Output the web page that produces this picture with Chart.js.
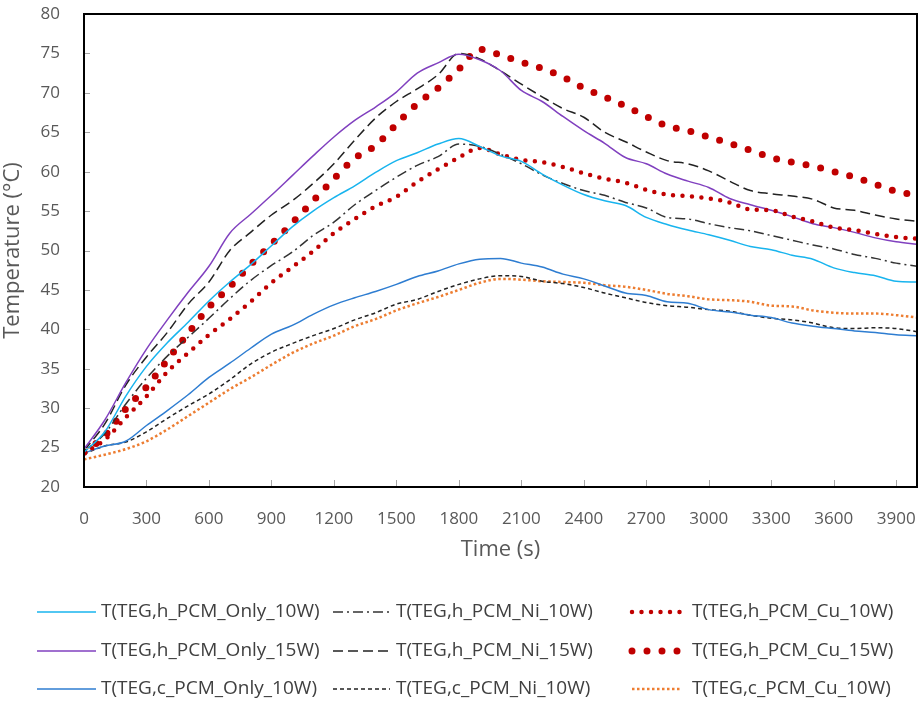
<!DOCTYPE html>
<html>
<head>
<meta charset="utf-8">
<script src="https://cdn.jsdelivr.net/npm/chart.js@4.4.1/dist/chart.umd.min.js"></script>
<style>
  body { margin: 0; background: #fff; }
</style>
</head>
<body>
<canvas id="myChart" width="921" height="703"></canvas>
<script>
// time axis (s)
const times = [0, 100, 200, 300, 400, 500, 600, 700, 800, 900, 1000, 1100, 1200, 1300, 1400, 1500, 1600, 1700, 1800, 1900, 2000,
    2100, 2200, 2300, 2400, 2500, 2600, 2700, 2800, 2900, 3000, 3100, 3200, 3300, 3400, 3500, 3600, 3700, 3800, 3900, 4000];
const xTicks = [0, 300, 600, 900, 1200, 1500, 1800, 2100, 2400, 2700, 3000, 3300, 3600, 3900];

// temperatures (°C)
const hOnly10 = [24.4, 27.0, 31.5, 35.3, 38.3, 40.9, 43.6, 46.0, 48.2, 50.6, 53.0, 55.0, 56.7, 58.2, 59.9, 61.4, 62.4, 63.5, 64.2, 63.2, 62.0,
    61.3, 59.7, 58.3, 57.1, 56.3, 55.7, 54.2, 53.3, 52.6, 52.0, 51.3, 50.5, 50.1, 49.4, 48.9, 47.8, 47.2, 46.8, 46.1, 46.0];
const hNi10 = [24.5, 26.8, 30.5, 33.8, 36.6, 39.0, 41.4, 43.9, 46.2, 48.1, 49.8, 51.9, 53.6, 55.8, 57.6, 59.3, 60.8, 61.9, 63.5, 63.2, 62.2,
    61.0, 59.6, 58.5, 57.6, 57.0, 56.1, 55.4, 54.2, 54.0, 53.4, 52.9, 52.5, 51.9, 51.3, 50.7, 50.2, 49.5, 49.0, 48.4, 48.0];
const hCu10 = [24.3, 26.0, 28.8, 31.5, 34.6, 37.0, 39.3, 41.3, 43.5, 45.9, 47.9, 49.9, 52.2, 54.0, 55.6, 56.8, 58.7, 60.3, 61.8, 63.0, 62.2,
    61.5, 61.2, 60.6, 59.8, 59.1, 58.6, 57.7, 57.1, 56.9, 56.6, 56.1, 55.2, 55.1, 54.3, 53.7, 52.9, 52.6, 52.1, 51.7, 51.5];
const hOnly15 = [24.8, 28.5, 33.2, 37.5, 41.2, 44.7, 48.0, 52.2, 54.6, 57.0, 59.5, 62.0, 64.4, 66.5, 68.2, 70.1, 72.5, 73.8, 74.9, 74.2, 72.8,
    70.3, 68.9, 67.0, 65.2, 63.6, 61.8, 61.0, 59.7, 58.8, 58.0, 56.6, 55.8, 55.1, 54.3, 53.4, 52.9, 52.3, 51.6, 51.1, 50.8];
const hNi15 = [24.6, 28.0, 32.9, 36.5, 39.6, 43.2, 46.0, 50.0, 52.3, 54.5, 56.3, 58.5, 61.0, 64.0, 66.8, 68.9, 70.5, 72.3, 75.0, 74.3, 72.8,
    71.1, 69.5, 68.0, 66.9, 65.0, 63.8, 62.5, 61.4, 61.0, 60.1, 58.8, 57.6, 57.2, 56.9, 56.5, 55.4, 55.1, 54.5, 54.0, 53.7];
const hCu15 = [24.4, 26.5, 29.9, 32.7, 36.1, 39.5, 42.8, 45.4, 48.2, 50.8, 53.5, 56.3, 59.1, 61.7, 63.3, 66.0, 68.6, 70.6, 73.0, 75.5, 74.8,
    73.9, 73.1, 72.0, 70.6, 69.5, 68.3, 67.0, 65.8, 65.2, 64.4, 63.6, 62.7, 61.8, 61.2, 60.7, 60.0, 59.3, 58.4, 57.5, 57.0];
const cOnly10 = [24.3, 25.2, 25.8, 27.8, 29.7, 31.7, 33.9, 35.7, 37.6, 39.4, 40.5, 41.9, 43.1, 44.0, 44.8, 45.7, 46.7, 47.4, 48.3, 48.9, 49.0,
    48.4, 47.9, 47.0, 46.4, 45.5, 44.6, 44.3, 43.5, 43.3, 42.5, 42.2, 41.8, 41.5, 40.8, 40.4, 40.1, 39.8, 39.6, 39.3, 39.2];
const cNi10 = [24.2, 25.2, 25.7, 27.0, 28.7, 30.3, 31.8, 33.6, 35.6, 37.1, 38.2, 39.2, 40.1, 41.2, 42.1, 43.2, 43.8, 44.8, 45.7, 46.4, 46.8,
    46.7, 46.1, 45.8, 45.3, 44.6, 44.0, 43.4, 43.0, 42.8, 42.5, 42.3, 41.8, 41.4, 41.2, 40.8, 40.2, 40.1, 40.2, 40.1, 39.7];
const cCu10 = [23.5, 24.1, 24.8, 25.8, 27.3, 29.0, 30.7, 32.4, 33.9, 35.5, 37.0, 38.2, 39.2, 40.4, 41.3, 42.4, 43.3, 44.1, 45.0, 45.9, 46.4,
    46.3, 46.1, 46.0, 45.9, 45.6, 45.4, 45.0, 44.5, 44.2, 43.8, 43.7, 43.5, 43.0, 42.9, 42.4, 42.1, 42.0, 42.0, 41.8, 41.5];

const seriesNames = ['T(TEG,h_PCM_Only_10W)', 'T(TEG,h_PCM_Ni_10W)', 'T(TEG,h_PCM_Cu_10W)',
    'T(TEG,h_PCM_Only_15W)', 'T(TEG,h_PCM_Ni_15W)', 'T(TEG,h_PCM_Cu_15W)',
    'T(TEG,c_PCM_Only_10W)', 'T(TEG,c_PCM_Ni_10W)', 'T(TEG,c_PCM_Cu_10W)'];
const seriesValues = [hOnly10, hNi10, hCu10, hOnly15, hNi15, hCu15, cOnly10, cNi10, cCu10];

const styles = [
    { borderColor: '#18b4ee', borderWidth: 1.5, borderDash: [], borderCapStyle: 'butt' },
    { borderColor: '#333333', borderWidth: 1.5, borderDash: [10, 4, 2, 4], borderCapStyle: 'butt' },
    { borderColor: '#c00000', borderWidth: 4.5, borderDash: [0, 9.5], borderCapStyle: 'round' },
    { borderColor: '#8040bf', borderWidth: 1.5, borderDash: [], borderCapStyle: 'butt' },
    { borderColor: '#222222', borderWidth: 1.5, borderDash: [10, 5], borderCapStyle: 'butt' },
    { borderColor: '#c00000', borderWidth: 7, borderDash: [0, 15], borderCapStyle: 'round' },
    { borderColor: '#2e7dd1', borderWidth: 1.5, borderDash: [], borderCapStyle: 'butt' },
    { borderColor: '#222222', borderWidth: 1.5, borderDash: [4, 3], borderCapStyle: 'butt' },
    { borderColor: '#ed7d31', borderWidth: 2.5, borderDash: [2.5, 2.5], borderCapStyle: 'butt' }
];

const datasets = seriesNames.map((name, i) => Object.assign({
    label: name,
    data: times.map((t, j) => ({ x: t, y: seriesValues[i][j] })),
    pointRadius: 0,
    tension: 0.3,
    cubicInterpolationMode: 'monotone',
    fill: false
}, styles[i]));

// frame, inner tick marks and a 3 x 3 legend like the original
const framePlugin = {
    id: 'frame',
    afterDraw(chart) {
        const { ctx, chartArea: a, scales: { x, y } } = chart;
        ctx.save();
        ctx.strokeStyle = '#a6a6a6';
        ctx.lineWidth = 1;
        ctx.beginPath();
        x.ticks.forEach(t => {
            const px = Math.round(x.getPixelForValue(t.value)) + 0.5;
            ctx.moveTo(px, a.bottom);
            ctx.lineTo(px, a.bottom - 7);
        });
        y.ticks.forEach(t => {
            const py = Math.round(y.getPixelForValue(t.value)) + 0.5;
            ctx.moveTo(a.left, py);
            ctx.lineTo(a.left + 6, py);
        });
        ctx.stroke();
        ctx.strokeStyle = '#000';
        ctx.lineWidth = 2;
        ctx.strokeRect(a.left, a.top, a.right - a.left, a.bottom - a.top);

        const colX = [[37, 96, 101], [333, 390, 396], [632, 682, 692]];
        const rowY = [612, 651, 689];
        ctx.font = '19px "Open Sans"';
        ctx.textBaseline = 'middle';
        ctx.fillStyle = '#404040';
        chart.data.datasets.forEach((ds, i) => {
            const c = colX[i % 3], yy = rowY[Math.floor(i / 3)];
            ctx.save();
            ctx.strokeStyle = ds.borderColor;
            ctx.lineWidth = ds.borderWidth;
            ctx.lineCap = ds.borderCapStyle;
            ctx.setLineDash(ds.borderDash);
            ctx.beginPath();
            ctx.moveTo(c[0], yy);
            ctx.lineTo(c[1], yy);
            ctx.stroke();
            ctx.restore();
            ctx.fillText(ds.label, c[2], yy);
        });
        ctx.restore();
    }
};

const ctx = document.getElementById('myChart').getContext('2d');
new Chart(ctx, {
    type: 'line',
    data: { datasets: datasets },
    options: {
        responsive: false,
        animation: false,
        layout: { padding: { top: 14, right: 4, bottom: 130, left: 0 } },
        plugins: { legend: { display: false }, tooltip: { enabled: false } },
        scales: {
            x: {
                type: 'linear',
                min: 0,
                max: 4000,
                grid: { display: false },
                border: { display: false },
                afterFit: s => { s.height = 86; s.paddingLeft = 0; s.paddingRight = 0; },
                afterBuildTicks: s => { s.ticks = xTicks.map(v => ({ value: v })); },
                ticks: {
                    autoSkip: false,
                    maxRotation: 0,
                    padding: 14,
                    color: '#595959',
                    font: { family: 'Open Sans', size: 17 },
                    callback: v => String(v)
                },
                title: {
                    display: true,
                    text: 'Time (s)',
                    color: '#595959',
                    font: { family: 'Open Sans', size: 22 },
                    padding: { top: 0, bottom: 10 }
                }
            },
            y: {
                min: 20,
                max: 80,
                grid: { display: false },
                border: { display: false },
                afterFit: s => { s.width = 84; s.paddingTop = 0; s.paddingBottom = 0; },
                ticks: {
                    stepSize: 5,
                    padding: 16,
                    color: '#595959',
                    font: { family: 'Open Sans', size: 17 }
                },
                title: {
                    display: true,
                    text: 'Temperature (°C)',
                    color: '#595959',
                    font: { family: 'Open Sans', size: 22 },
                    padding: { top: 0, bottom: 8 }
                }
            }
        }
    },
    plugins: [framePlugin]
});
</script>
</body>
</html>
